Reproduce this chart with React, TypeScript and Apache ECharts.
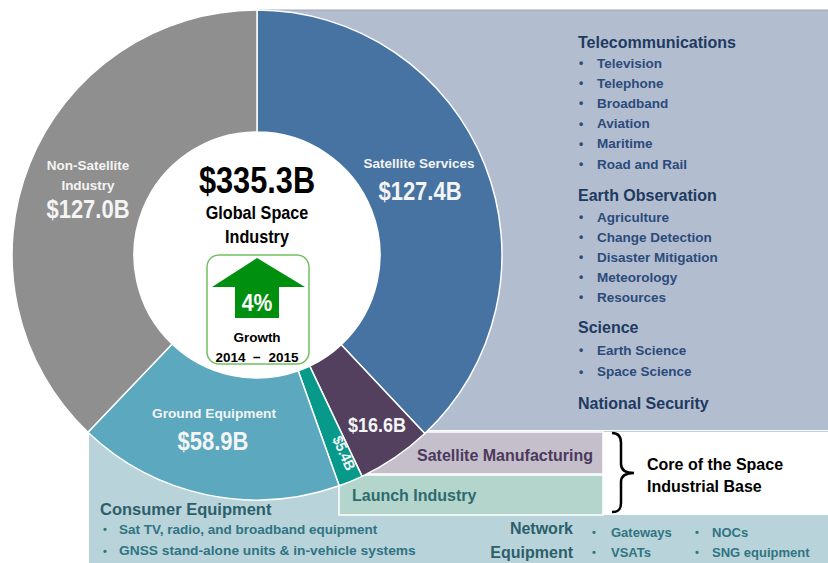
import React, { useEffect, useRef } from "react";
import * as echarts from "echarts";

const segments = ["Satellite Services", "Satellite Manufacturing", "Launch Industry", "Ground Equipment", "Non-Satellite Industry"];
const values = [127.4, 16.6, 5.4, 58.9, 127.0];
const sliceColors = ["#4673a1", "#53405f", "#07998a", "#5ba8bf", "#8f8f8f"];
const telecomItems = ["Television", "Telephone", "Broadband", "Aviation", "Maritime", "Road and Rail"];
const eoItems = ["Agriculture", "Change Detection", "Disaster Mitigation", "Meteorology", "Resources"];
const scienceItems = ["Earth Science", "Space Science"];
const consumerItems = ["Sat TV, radio, and broadband equipment", "GNSS stand-alone units & in-vehicle systems"];
const networkItems = ["Gateways", "VSATs", "NOCs", "SNG equipment"];
const growthPct = 4;
const growthYears = ["2014", "2015"];

const FONT = '"Liberation Sans", Arial, Helvetica, sans-serif';

function txt(x: number, y: number, text: string, o: any = {}) {
  return {
    type: "text",
    x,
    y,
    z: o.z ?? 20,
    rotation: o.rotation ?? 0,
    scaleX: o.scaleX ?? 1,
    silent: true,
    style: {
      text,
      fill: o.fill ?? "#000",
      fontSize: o.size ?? 14,
      fontWeight: o.weight ?? "bold",
      fontFamily: FONT,
      align: o.align ?? "center",
      verticalAlign: "middle",
      textAlign: o.align ?? "center",
      textVerticalAlign: "middle",
    },
  };
}

const fmt = (v: number) => `$${v.toFixed(1)}B`;

export default function App() {
  const ref = useRef<HTMLDivElement>(null);
  useEffect(() => {
    document.body.style.margin = "0";
    if (!ref.current) return;
    echarts.graphic.registerShape(
      "brace",
      echarts.graphic.extendPath("M0,0 C6,0 9,3 9,10 L9,31 C9,37 13,40 22,40 C13,40 9,43 9,49 L9,70 C9,77 6,79 0,79", {})
    );
    const chart = echarts.init(ref.current, null, { renderer: "svg" });
    const total = values.reduce((a, b) => a + b, 0);

    const headerColor = "#203a60";
    const itemColor = "#2b4b7b";
    const els: any[] = [];

    // backgrounds
    els.push({ type: "rect", z: 0, silent: true, shape: { x: 257, y: 10, width: 571, height: 420 }, style: { fill: "#b3bdd0" } });
    els.push({ type: "line", z: 0, silent: true, shape: { x1: 257, y1: 10, x2: 828, y2: 10 }, style: { stroke: "#9ea7b8", lineWidth: 1 } });
    els.push({ type: "rect", z: 0, silent: true, shape: { x: 89, y: 431, width: 739, height: 132 }, style: { fill: "#b9d3da" } });
    els.push({ type: "rect", z: 0, silent: true, shape: { x: 603, y: 432, width: 225, height: 83 }, style: { fill: "#ffffff" } });
    els.push({ type: "rect", z: 1, silent: true, shape: { x: 339, y: 432, width: 264, height: 42 }, style: { fill: "#c5becb", stroke: "#ffffff", lineWidth: 1.5 } });
    els.push({ type: "rect", z: 1, silent: true, shape: { x: 339, y: 475, width: 264, height: 40 }, style: { fill: "#b4d5cc", stroke: "#ffffff", lineWidth: 1.5 } });
    els.push({ type: "circle", z: 1, silent: true, shape: { cx: 257, cy: 255, r: 124 }, style: { fill: "#ffffff" } });

    // right list
    const header = (y: number, t: string) => els.push(txt(578, y, t, { size: 16, fill: headerColor, align: "left" }));
    const item = (y: number, t: string) => {
      els.push(txt(581, y, "•", { size: 12, fill: itemColor }));
      els.push(txt(597, y, t, { size: 13.5, fill: itemColor, align: "left" }));
    };
    header(42, "Telecommunications");
    telecomItems.forEach((t, i) => item(63 + i * 20.2, t));
    header(195, "Earth Observation");
    eoItems.forEach((t, i) => item(217 + i * 20, t));
    header(327, "Science");
    scienceItems.forEach((t, i) => item(350 + i * 21.5, t));
    header(403, "National Security");

    // core boxes
    els.push(txt(505, 455, segments[1], { size: 16, fill: "#4b3a5d", z: 1 }));
    els.push(txt(352, 495, segments[2], { size: 16, fill: "#2e6b6f", align: "left", z: 1 }));
    els.push({ type: "brace", z: 5, silent: true, x: 612, y: 433, style: { fill: "none", stroke: "#000", lineWidth: 2.5 } });
    els.push(txt(647, 464, "Core of the Space", { size: 16, align: "left" }));
    els.push(txt(647, 486, "Industrial Base", { size: 16, align: "left" }));

    // bottom
    const teal = "#2c5f6b";
    const teal2 = "#2f7482";
    els.push(txt(100, 509, "Consumer Equipment", { size: 16.5, fill: teal, align: "left" }));
    consumerItems.forEach((t, i) => {
      els.push(txt(105, 529 + i * 22, "•", { size: 11, fill: teal2 }));
      els.push(txt(119, 529 + i * 22, t, { size: 13.5, fill: teal2, align: "left", scaleX: i === 1 ? 1.02 : 1.0 }));
    });
    els.push(txt(573, 528, "Network", { size: 16, fill: teal, align: "right" }));
    els.push(txt(573, 552, "Equipment", { size: 16, fill: teal, align: "right" }));
    networkItems.forEach((t, i) => {
      const col = Math.floor(i / 2);
      const row = i % 2;
      const bx = col === 0 ? 594 : 697;
      const tx = col === 0 ? 611 : 712;
      els.push(txt(bx, 532 + row * 20, "•", { size: 11, fill: teal2 }));
      els.push(txt(tx, 532 + row * 20, t, { size: 13, fill: teal2, align: "left" }));
    });

    // slice labels
    const white = "#f4f4f4";
    els.push(txt(88, 165, "Non-Satellite", { size: 13.5, fill: white }));
    els.push(txt(88, 185, "Industry", { size: 13.5, fill: white }));
    els.push(txt(88, 210, fmt(values[4]), { size: 25, fill: white, scaleX: 0.88 }));
    els.push(txt(419, 163, segments[0], { size: 13.5, fill: white }));
    els.push(txt(420, 192, fmt(values[0]), { size: 25, fill: white, scaleX: 0.88 }));
    els.push(txt(214, 413, segments[3], { size: 13.7, fill: white }));
    els.push(txt(213, 442, fmt(values[3]), { size: 25, fill: white, scaleX: 0.88 }));
    els.push(txt(377, 425, fmt(values[1]), { size: 20, fill: white, scaleX: 0.9 }));
    els.push(txt(344, 453, fmt(values[2]), { size: 15, fill: white, rotation: (-66 * Math.PI) / 180, scaleX: 0.9 }));

    // center
    els.push(txt(257, 180, fmt(total), { size: 37, scaleX: 0.83 }));
    els.push(txt(257, 213, "Global Space", { size: 18, scaleX: 0.9 }));
    els.push(txt(257, 237, "Industry", { size: 18, scaleX: 0.9 }));
    els.push({ type: "rect", z: 15, silent: true, shape: { x: 207, y: 255, width: 102, height: 109, r: 12 }, style: { fill: "#ffffff", stroke: "#72c062", lineWidth: 1.5 } });
    els.push({
      type: "polygon",
      z: 16,
      silent: true,
      shape: { points: [[257, 258], [305, 287], [279, 287], [279, 318], [235, 318], [235, 287], [212, 287]] },
      style: { fill: "#008f0e" },
    });
    els.push(txt(257, 303, `${growthPct}%`, { size: 23, fill: "#ffffff", scaleX: 0.92 }));
    els.push(txt(257, 337, "Growth", { size: 13.5 }));
    els.push(txt(257, 357, `${growthYears[0]}  \u2212  ${growthYears[1]}`, { size: 13.5 }));

    chart.setOption({
      animation: false,
      graphic: { elements: els },
      series: [
        {
          type: "pie",
          z: 2,
          center: [257, 255],
          radius: [123, 245],
          startAngle: 90,
          clockwise: true,
          silent: true,
          label: { show: false },
          labelLine: { show: false },
          emphasis: { disabled: true },
          itemStyle: { borderColor: "#ffffff", borderWidth: 1.5 },
          data: segments.map((name, i) => ({ name, value: values[i], itemStyle: { color: sliceColors[i] } })),
        },
      ],
    });
    return () => chart.dispose();
  }, []);
  return <div ref={ref} style={{ width: 828, height: 563 }} />;
}
